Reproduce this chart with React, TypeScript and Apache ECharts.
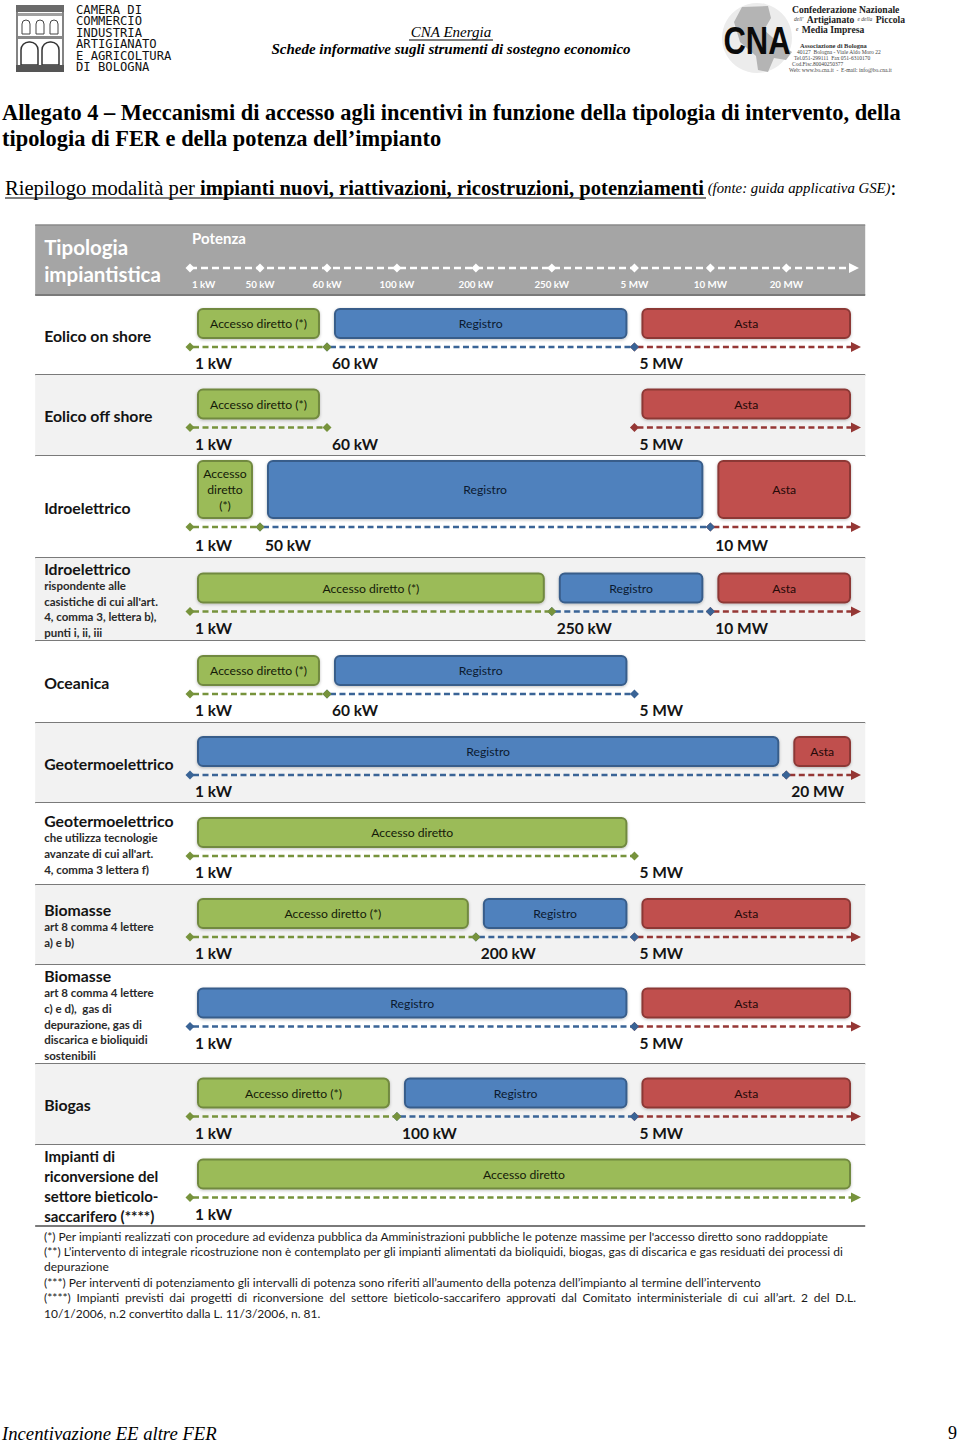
import React, { useEffect, useRef } from "react";
import * as echarts from "echarts";

// ---------------- DATA ----------------
const thresholds = ["1 kW", "50 kW", "60 kW", "100 kW", "200 kW", "250 kW", "5 MW", "10 MW", "20 MW"];
const OPEN = "oltre";

const rowTitles = [
  "Eolico on shore",
  "Eolico off shore",
  "Idroelettrico",
  "Idroelettrico",
  "Oceanica",
  "Geotermoelettrico",
  "Geotermoelettrico",
  "Biomasse",
  "Biomasse",
  "Biogas",
  "Impianti di\nriconversione del\nsettore bieticolo-\nsaccarifero (****)",
];

const rowNotes = [
  "",
  "",
  "",
  "rispondente alle\ncasistiche di cui all'art.\n4, comma 3, lettera b),\npunti i, ii, iii",
  "",
  "",
  "che utilizza tecnologie\navanzate di cui all'art.\n4, comma 3 lettera f)",
  "art 8 comma 4 lettere\na) e b)",
  "art 8 comma 4 lettere\nc) e d),  gas di\ndepurazione, gas di\ndiscarica e bioliquidi\nsostenibili",
  "",
  "",
];

const accessoDirettoRange: (string[] | null)[] = [
  ["1 kW", "60 kW"],
  ["1 kW", "60 kW"],
  ["1 kW", "50 kW"],
  ["1 kW", "250 kW"],
  ["1 kW", "60 kW"],
  null,
  ["1 kW", "5 MW"],
  ["1 kW", "200 kW"],
  null,
  ["1 kW", "100 kW"],
  ["1 kW", OPEN],
];
const accessoDirettoLabel = [
  "Accesso diretto (*)",
  "Accesso diretto (*)",
  "Accesso\ndiretto\n(*)",
  "Accesso diretto (*)",
  "Accesso diretto (*)",
  "",
  "Accesso diretto",
  "Accesso diretto (*)",
  "",
  "Accesso diretto (*)",
  "Accesso diretto",
];
const registroRange: (string[] | null)[] = [
  ["60 kW", "5 MW"],
  null,
  ["50 kW", "10 MW"],
  ["250 kW", "10 MW"],
  ["60 kW", "5 MW"],
  ["1 kW", "20 MW"],
  null,
  ["200 kW", "5 MW"],
  ["1 kW", "5 MW"],
  ["100 kW", "5 MW"],
  null,
];
const astaRange: (string[] | null)[] = [
  ["5 MW", OPEN],
  ["5 MW", OPEN],
  ["10 MW", OPEN],
  ["10 MW", OPEN],
  null,
  ["20 MW", OPEN],
  null,
  ["5 MW", OPEN],
  ["5 MW", OPEN],
  ["5 MW", OPEN],
  null,
];
const mechanismLabels = ["Accesso diretto", "Registro", "Asta"];

const headerTexts = ["Tipologia", "impiantistica", "Potenza"];

const footnotes = [
  "(*) Per impianti realizzati con procedure ad evidenza pubblica da Amministrazioni pubbliche le potenze massime per l'accesso diretto sono raddoppiate",
  "(**) L’intervento di integrale ricostruzione non è contemplato per gli impianti alimentati da bioliquidi, biogas, gas di discarica e gas residuati dei processi di",
  "depurazione",
  "(***) Per interventi di potenziamento gli intervalli di potenza sono riferiti all’aumento della potenza dell’impianto al termine dell’intervento",
  "(****) Impianti previsti dai progetti di riconversione del settore bieticolo-saccarifero approvati dal Comitato interministeriale di cui all’art. 2 del D.L.",
  "10/1/2006, n.2 convertito dalla L. 11/3/2006, n. 81.",
];

const titleLines = [
  "Allegato 4 – Meccanismi di accesso agli incentivi in funzione della tipologia di intervento, della",
  "tipologia di FER e della potenza dell’impianto",
];

// ---------------- LAYOUT (schematic, non-linear "Potenza" axis) ----------------
const thresholdPos = [0, 0.94, 1.84, 2.78, 3.84, 4.86, 5.97, 6.99, 8.01];
const OPEN_POS = 9;
const TABLE_X = [-2.08, 9.07];
const HEADER_H = 70;
const rowHeights = [80, 81, 102, 83, 82, 80, 82, 80, 99, 81, 81];

const SANS = 'Lato, "Open Sans", sans-serif';
const SERIF = '"Liberation Serif", "DejaVu Serif", serif';

const fills = ["#9bbb59", "#4f81bd", "#c0504d"];
const strokes = ["#71893f", "#385d8a", "#8c3836"];
const lineColors = ["#77933c", "#3a6496", "#953735"];
const textColors = ["#141a08", "#0b1a30", "#240908"];

const rowEdges: number[] = [HEADER_H];
rowHeights.forEach((h, i) => rowEdges.push(rowEdges[i] + h));
const TOTAL_H = rowEdges[rowEdges.length - 1];

const pos = (t: string) => (t === OPEN ? OPEN_POS : thresholdPos[thresholds.indexOf(t)]);

type Seg = { row: number; kind: number; from: string; to: string; label: string };
const segments: Seg[] = [];
const rowLines: number[] = [];
const breakpoints: { row: number; t: string }[] = [];
rowTitles.forEach((_, r) => {
  const ranges = [accessoDirettoRange[r], registroRange[r], astaRange[r]];
  const labels = [accessoDirettoLabel[r] || mechanismLabels[0], mechanismLabels[1], mechanismLabels[2]];
  let maxLines = 1;
  const bps = new Set<string>();
  for (let k = 2; k >= 0; k--) {
    const rg = ranges[k];
    if (!rg) continue;
    segments.push({ row: r, kind: k, from: rg[0], to: rg[1], label: labels[k] });
    maxLines = Math.max(maxLines, labels[k].split("\n").length);
    bps.add(rg[0]);
    if (rg[1] !== OPEN) bps.add(rg[1]);
  }
  rowLines.push(maxLines);
  thresholds.forEach((t) => {
    if (bps.has(t)) breakpoints.push({ row: r, t });
  });
});

function rowGeom(api: any, r: number) {
  const yT = api.coord([0, rowEdges[r]])[1];
  const yB = api.coord([0, rowEdges[r + 1]])[1];
  const C = (yT + yB) / 2;
  const n = rowLines[r];
  const lineY = C + 12 + (n - 1) * 4;
  return { yT, yB, C, lineY, barB: lineY - 9, barH: n === 1 ? 29 : 57, labelY: lineY + 16 + (n - 1) };
}

function diamond(x: number, y: number, s: number, fill: string) {
  return {
    type: "polygon",
    shape: { points: [[x - s, y], [x, y - s], [x + s, y], [x, y + s]] },
    style: { fill },
  };
}

function txt(x: number, y: number, text: string, font: string, fill = "#000", align = "left", extra: any = {}) {
  return {
    type: "text",
    x,
    y,
    style: { text, font, fill, align, textAlign: align, verticalAlign: "middle", textVerticalAlign: "middle", ...extra },
  };
}

export default function App() {
  const ref = useRef<HTMLDivElement>(null);
  useEffect(() => {
    document.body.style.margin = "0";
    const chart = echarts.init(ref.current!, null, { renderer: "svg" });

    // measurement for justified footnote line
    const ctx = document.createElement("canvas").getContext("2d")!;
    const justify = (line: string, x0: number, x1: number, y: number, font: string) => {
      ctx.font = font;
      const words = line.split(" ");
      const widths = words.map((w) => ctx.measureText(w).width);
      const total = widths.reduce((a, b) => a + b, 0);
      const gap = (x1 - x0 - total) / (words.length - 1);
      let x = x0;
      return words.map((w, i) => {
        const el = txt(x, y, w, font, "#1a1a1a");
        x += widths[i] + gap;
        return el;
      });
    };

    const noteFont = `12px ${SANS}`;
    const noteYs = [1236, 1251, 1266, 1282, 1297, 1313];
    const footEls: any[] = [];
    footnotes.forEach((l, i) => {
      if (i === 4) footEls.push(...justify(l, 44, 856, noteYs[i], noteFont));
      else footEls.push(txt(44, noteYs[i], l, noteFont, "#1a1a1a"));
    });

    const graphics: any[] = [
      // Camera di commercio logo (building)
      { type: "rect", shape: { x: 17, y: 6, width: 46, height: 65 }, style: { fill: "#fff", stroke: "#333", lineWidth: 1.2 } },
      { type: "rect", shape: { x: 16, y: 5, width: 48, height: 7 }, style: { fill: "#6a6a6a" } },
      { type: "rect", shape: { x: 18, y: 13, width: 44, height: 3 }, style: { fill: "#a0a0a0" } },
      { type: "rect", shape: { x: 22, y: 20, width: 8, height: 14, r: [4, 4, 0, 0] }, style: { fill: "#fff", stroke: "#444", lineWidth: 1 } },
      { type: "rect", shape: { x: 36, y: 20, width: 8, height: 14, r: [4, 4, 0, 0] }, style: { fill: "#fff", stroke: "#444", lineWidth: 1 } },
      { type: "rect", shape: { x: 50, y: 20, width: 8, height: 14, r: [4, 4, 0, 0] }, style: { fill: "#fff", stroke: "#444", lineWidth: 1 } },
      { type: "rect", shape: { x: 18, y: 36, width: 44, height: 3 }, style: { fill: "#888" } },
      { type: "rect", shape: { x: 21, y: 42, width: 17, height: 23, r: [8, 8, 0, 0] }, style: { fill: "#fff", stroke: "#333", lineWidth: 1.5 } },
      { type: "rect", shape: { x: 42, y: 42, width: 17, height: 23, r: [8, 8, 0, 0] }, style: { fill: "#fff", stroke: "#333", lineWidth: 1.5 } },
      { type: "rect", shape: { x: 16, y: 65, width: 48, height: 7 }, style: { fill: "#555" } },
      {
        type: "text",
        x: 76,
        y: 4,
        style: {
          text: "CAMERA DI\nCOMMERCIO\nINDUSTRIA\nARTIGIANATO\nE AGRICOLTURA\nDI BOLOGNA",
          font: '12.2px "DejaVu Sans Mono", monospace',
          lineHeight: 11.5,
          fill: "#111",
        },
      },
      // centre header
      txt(451, 32, "CNA Energia", `italic 15px ${SERIF}`, "#000", "center"),
      { type: "line", shape: { x1: 409, y1: 40, x2: 493, y2: 40 }, style: { stroke: "#000", lineWidth: 1 } },
      txt(451, 49, "Schede informative sugli strumenti di sostegno economico", `italic bold 15px ${SERIF}`, "#000", "center"),
      // CNA logo
      { type: "circle", shape: { cx: 757, cy: 38, r: 35 }, style: { fill: "#ececec" } },
      {
        type: "polygon",
        shape: { points: [[742, 7], [768, 6], [771, 18], [764, 30], [780, 44], [792, 52], [786, 60], [774, 58], [768, 72], [758, 70], [756, 56], [740, 42], [734, 22]] },
        style: { fill: "#b4b4b4" },
      },
      { type: "text", x: 757, y: 40, scaleY: 1.25, style: { text: "CNA", font: 'bold 31px "Liberation Sans", Arial, sans-serif', fill: "#0a0a0a", align: "center", textAlign: "center", verticalAlign: "middle", textVerticalAlign: "middle" } },
      txt(792, 9, "Confederazione Nazionale", `bold 9.6px ${SERIF}`, "#222"),
      {
        type: "text",
        x: 794,
        y: 19,
        style: {
          text: "{s|dell'} {b|Artigianato} {s|e della} {b|Piccola}",
          rich: { s: { font: `italic 5.5px ${SERIF}`, fill: "#444" }, b: { font: `bold 9.6px ${SERIF}`, fill: "#222" } },
          verticalAlign: "middle",
          textVerticalAlign: "middle",
        },
      },
      {
        type: "text",
        x: 796,
        y: 29,
        style: {
          text: "{s|e} {b|Media Impresa}",
          rich: { s: { font: `italic 5.5px ${SERIF}`, fill: "#444" }, b: { font: `bold 9.6px ${SERIF}`, fill: "#222" } },
          verticalAlign: "middle",
          textVerticalAlign: "middle",
        },
      },
      txt(800, 45, "Associazione di Bologna", `bold 6.5px ${SERIF}`, "#333"),
      txt(797, 52, "40127  Bologna - Viale Aldo Moro 22", `5.5px ${SERIF}`, "#444"),
      txt(794, 58, "Tel.051-299111  Fax 051-6310170", `5.5px ${SERIF}`, "#444"),
      txt(792, 64, "Cod.Fisc.80040250377", `5.5px ${SERIF}`, "#444"),
      txt(789, 70, "Web: www.bo.cna.it  -  E-mail: info@bo.cna.it", `5.5px ${SERIF}`, "#444"),
      // title
      txt(2, 112, titleLines[0], `bold 22.4px ${SERIF}`),
      txt(2, 138, titleLines[1], `bold 22.4px ${SERIF}`),
      // subtitle
      {
        type: "text",
        x: 5,
        y: 188,
        style: {
          text: "{r|Riepilogo modalità per }{b|impianti nuovi, riattivazioni, ricostruzioni, potenziamenti}{i| (fonte: guida applicativa GSE)}{r|:}",
          rich: {
            r: { font: `20.6px ${SERIF}`, fill: "#000" },
            b: { font: `bold 20.6px ${SERIF}`, fill: "#000" },
            i: { font: `italic 14.8px ${SERIF}`, fill: "#000" },
          },
          verticalAlign: "middle",
          textVerticalAlign: "middle",
        },
      },
      { type: "line", shape: { x1: 5, y1: 198, x2: 706, y2: 198 }, style: { stroke: "#000", lineWidth: 1 } },
      // footnotes
      ...footEls,
      // page footer
      txt(2, 1433, "Incentivazione EE altre FER", `italic 18.7px ${SERIF}`),
      txt(957, 1433, "9", `18px ${SERIF}`, "#000", "right"),
    ];

    const option: any = {
      animation: false,
      grid: { left: 190, right: 100, top: 225, height: TOTAL_H },
      xAxis: { type: "value", min: 0, max: OPEN_POS, show: false },
      yAxis: { type: "value", min: 0, max: TOTAL_H, inverse: true, show: false },
      graphic: graphics,
      series: [
        // table rows: background, separator and label
        {
          type: "custom",
          name: "rows",
          coordinateSystem: "cartesian2d",
          silent: true,
          data: rowTitles.map((_, i) => [0, i]),
          renderItem: (params: any, api: any) => {
            const r = params.dataIndex;
            const g = rowGeom(api, r);
            const xL = api.coord([TABLE_X[0], 0])[0];
            const xR = api.coord([TABLE_X[1], 0])[0];
            const titleLinesR = rowTitles[r].split("\n");
            const notes = rowNotes[r] ? rowNotes[r].split("\n") : [];
            const multiTitle = titleLinesR.length > 1;
            const text = [
              ...titleLinesR.map((l) => `{${multiTitle ? "m" : "t"}|${l}}`),
              ...notes.map((l) => `{n|${l}}`),
            ].join("\n");
            return {
              type: "group",
              children: [
                { type: "rect", shape: { x: xL, y: g.yT, width: xR - xL, height: g.yB - g.yT }, style: { fill: r % 2 === 1 ? "#f2f2f2" : "#ffffff" } },
                { type: "line", shape: { x1: xL, y1: g.yB, x2: xR, y2: g.yB }, style: { stroke: "#7a7a7a", lineWidth: 2 } },
                {
                  type: "text",
                  x: xL + 9,
                  y: g.C,
                  style: {
                    text,
                    verticalAlign: "middle",
                    textVerticalAlign: "middle",
                    rich: {
                      t: { font: `bold 15.8px ${SANS}`, fill: "#141414", lineHeight: 19 },
                      m: { font: `bold 15px ${SANS}`, fill: "#141414", lineHeight: 20 },
                      n: { font: `bold 11.5px ${SANS}`, fill: "#2a2a2a", lineHeight: 15.7 },
                    },
                  },
                },
              ],
            };
          },
        },
        // header row with the "Potenza" axis
        {
          type: "custom",
          name: "header",
          coordinateSystem: "cartesian2d",
          silent: true,
          data: [[0, 0]],
          renderItem: (_params: any, api: any) => {
            const yT = api.coord([0, 0])[1];
            const yB = api.coord([0, HEADER_H])[1];
            const xL = api.coord([TABLE_X[0], 0])[0];
            const xR = api.coord([TABLE_X[1], 0])[0];
            const ay = yT + 43;
            const x0 = api.coord([0, 0])[0];
            const xEnd = api.coord([OPEN_POS, 0])[0] - 2;
            const children: any[] = [
              { type: "rect", shape: { x: xL, y: yT, width: xR - xL, height: yB - yT }, style: { fill: "#a5a5a5" } },
              { type: "line", shape: { x1: xL, y1: yT, x2: xR, y2: yT }, style: { stroke: "#8a8a8a", lineWidth: 1.5 } },
              { type: "line", shape: { x1: xL, y1: yB, x2: xR, y2: yB }, style: { stroke: "#7a7a7a", lineWidth: 2 } },
              txt(xL + 9, yT + 22, headerTexts[0], `bold 20.5px ${SANS}`, "#ffffff"),
              txt(xL + 9, yT + 49, headerTexts[1], `bold 20.5px ${SANS}`, "#ffffff"),
              txt(x0 + 2, yT + 13, headerTexts[2], `bold 15px ${SANS}`, "#ffffff"),
              { type: "line", shape: { x1: x0, y1: ay, x2: xEnd - 6, y2: ay }, style: { stroke: "#ffffff", lineWidth: 2.5, lineDash: [7, 4] } },
              { type: "polygon", shape: { points: [[xEnd - 9, ay - 5], [xEnd + 1, ay], [xEnd - 9, ay + 5]] }, style: { fill: "#ffffff" } },
            ];
            thresholds.forEach((t, i) => {
              const x = api.coord([thresholdPos[i], 0])[0];
              children.push(diamond(x, ay, 4.5, "#ffffff"));
              children.push(txt(i === 0 ? x + 2 : x, yT + 59, t, `bold 9.8px ${SANS}`, "#ffffff", i === 0 ? "left" : "center"));
            });
            return { type: "group", children };
          },
        },
        // mechanism bands: bars and dashed power ranges
        {
          type: "custom",
          name: "mechanisms",
          coordinateSystem: "cartesian2d",
          silent: true,
          encode: { x: [0, 1], y: 2 },
          data: segments.map((s) => [pos(s.from), pos(s.to), s.row, s.kind]),
          renderItem: (params: any, api: any) => {
            const s = segments[params.dataIndex];
            const g = rowGeom(api, s.row);
            const xa = api.coord([api.value(0), 0])[0];
            const xb = api.coord([api.value(1), 0])[0];
            const open = s.to === OPEN;
            const k = s.kind;
            const bx0 = xa + 8;
            const bx1 = xb - (open ? 10 : 8);
            const bh = g.barH;
            const by = g.barB - bh;
            const y = g.lineY;
            const children: any[] = [
              {
                type: "rect",
                shape: { x: bx0, y: by, width: bx1 - bx0, height: bh, r: 5 },
                style: { fill: fills[k], stroke: strokes[k], lineWidth: 2, shadowBlur: 3, shadowColor: "rgba(0,0,0,0.25)", shadowOffsetY: 1 },
              },
              {
                type: "text",
                x: (bx0 + bx1) / 2,
                y: by + bh / 2,
                style: {
                  text: s.label,
                  font: `12.2px ${SANS}`,
                  fill: textColors[k],
                  lineHeight: 16,
                  align: "center",
                  textAlign: "center",
                  verticalAlign: "middle",
                  textVerticalAlign: "middle",
                },
              },
              {
                type: "line",
                shape: { x1: xa + 3, y1: y, x2: open ? xb - 6 : xb - 3, y2: y },
                style: { stroke: lineColors[k], lineWidth: 2.4, lineDash: [6, 3.5] },
              },
              diamond(xa, y, 4.5, lineColors[k]),
              open
                ? { type: "polygon", shape: { points: [[xb - 9, y - 5], [xb + 1, y], [xb - 9, y + 5]] }, style: { fill: lineColors[k] } }
                : diamond(xb, y, 4.5, lineColors[k]),
            ];
            return { type: "group", children };
          },
        },
        // breakpoint labels under each band
        {
          type: "custom",
          name: "breakpoints",
          coordinateSystem: "cartesian2d",
          silent: true,
          encode: { x: 0, y: 1 },
          data: breakpoints.map((b) => [pos(b.t), b.row]),
          renderItem: (params: any, api: any) => {
            const b = breakpoints[params.dataIndex];
            const g = rowGeom(api, b.row);
            const x = api.coord([api.value(0), 0])[0];
            return txt(x + 5, g.labelY, b.t, `bold 15.5px ${SANS}`, "#141414");
          },
        },
      ],
    };
    chart.setOption(option);
    return () => chart.dispose();
  }, []);
  return <div ref={ref} style={{ width: 960, height: 1442 }} />;
}
